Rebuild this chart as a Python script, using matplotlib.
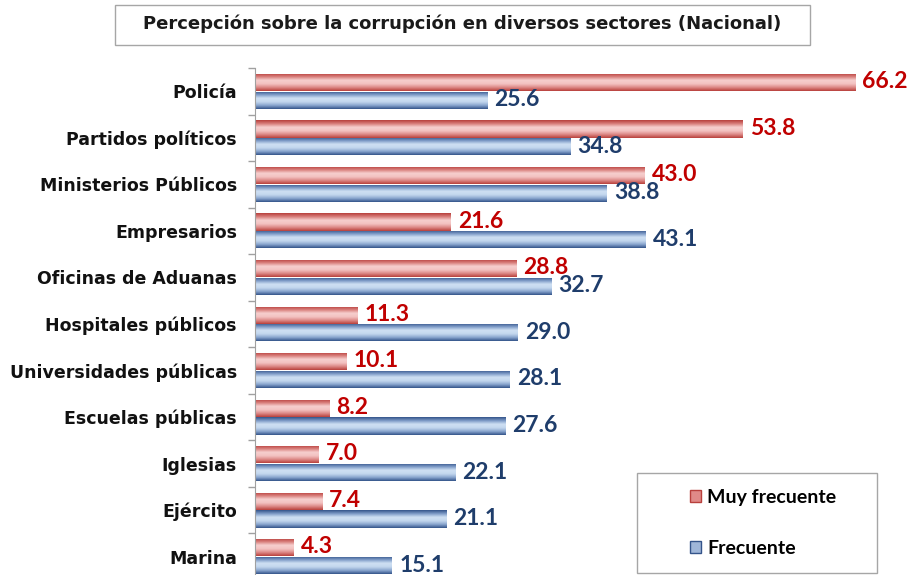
import matplotlib
matplotlib.use("Agg")
import matplotlib.pyplot as plt
import numpy as np
from matplotlib.colors import LinearSegmentedColormap
from matplotlib.patches import Rectangle, Patch

categories = ["Policía", "Partidos políticos", "Ministerios Públicos", "Empresarios",
              "Oficinas de Aduanas", "Hospitales públicos", "Universidades públicas",
              "Escuelas públicas", "Iglesias", "Ejército", "Marina"]
muy_frecuente = [66.2, 53.8, 43.0, 21.6, 28.8, 11.3, 10.1, 8.2, 7.0, 7.4, 4.3]
frecuente = [25.6, 34.8, 38.8, 43.1, 32.7, 29.0, 28.1, 27.6, 22.1, 21.1, 15.1]
series_names = ["Muy frecuente", "Frecuente"]
title = "Percepción sobre la corrupción en diversos sectores (Nacional)"

W, H = 914, 575
fig = plt.figure(figsize=(W / 100, H / 100), dpi=100)
fig.patch.set_facecolor("white")

ax_left, ax_right, ax_top, ax_bottom = 255, 914, 68, 580
ax = fig.add_axes([ax_left / W, 1 - ax_bottom / H, (ax_right - ax_left) / W, (ax_bottom - ax_top) / H])

red_cmap = LinearSegmentedColormap.from_list("r", ["#B8403C", "#D97F7C", "#F6CFCE", "#F3C2C1", "#DD8A88", "#B8403C"])
blue_cmap = LinearSegmentedColormap.from_list("b", ["#34548A", "#7F9CC8", "#CFE0F3", "#C3D7EE", "#8AA6CF", "#34548A"])
grad = np.linspace(0, 1, 64).reshape(-1, 1)

y = np.arange(len(categories))
bh = 0.37
off = 0.19
bars_r = ax.barh(y - off, muy_frecuente, height=bh, color="#D97F7C", edgecolor="none")
bars_b = ax.barh(y + off, frecuente, height=bh, color="#8AA6CF", edgecolor="none")

for bars, cmap in ((bars_r, red_cmap), (bars_b, blue_cmap)):
    for b in bars:
        x0, y0 = b.get_x(), b.get_y()
        w, h = b.get_width(), b.get_height()
        im = ax.imshow(grad, cmap=cmap, aspect="auto", extent=(x0, x0 + w, y0 + h, y0),
                       interpolation="bilinear", zorder=2)
        im.set_clip_path(b)

for b, v in zip(bars_r, muy_frecuente):
    ax.text(v + 0.8, b.get_y() + b.get_height() / 2 - 0.02, f"{v:.1f}", color="#C00000",
            fontsize=16.5, fontweight="bold", family="Lato", va="center", ha="left", zorder=3)
for b, v in zip(bars_b, frecuente):
    ax.text(v + 0.8, b.get_y() + b.get_height() / 2 - 0.01, f"{v:.1f}", color="#1F3D6B",
            fontsize=16.5, fontweight="bold", family="Lato", va="center", ha="left", zorder=3)

ax.set_xlim(0, 72.7)
ax.set_ylim(len(categories) - 0.5, -0.5)
ax.set_yticks(y)
ax.set_yticklabels(categories, fontsize=12.5, fontweight="bold", family="DejaVu Sans", color="#111111")
ax.tick_params(axis="y", which="major", length=0, pad=13)
ax.set_yticks(np.arange(-0.5, len(categories) + 0.5, 1), minor=True)
ax.tick_params(axis="y", which="minor", length=5, color="#A0A0A0", width=1)
ax.set_xticks([])
for s in ("top", "right", "bottom"):
    ax.spines[s].set_visible(False)
ax.spines["left"].set_color("#A0A0A0")
ax.set_facecolor("none")

# Title box
fig.patches.append(Rectangle((115 / W, 1 - 45 / H), (810 - 115) / W, 40 / H, transform=fig.transFigure,
                             facecolor="white", edgecolor="#A6A6A6", linewidth=1))
fig.text(462 / W, 1 - 24 / H, title, ha="center", va="center", fontsize=13,
         fontweight="bold", family="DejaVu Sans", color="#1a1a1a")

# Legend box
fig.patches.append(Rectangle((637 / W, 1 - 573 / H), (877 - 637) / W, 100 / H, transform=fig.transFigure,
                             facecolor="white", edgecolor="#A6A6A6", linewidth=1, zorder=5))
handles = [Patch(facecolor="#E08A88", edgecolor="#B8403C"), Patch(facecolor="#9FB6D8", edgecolor="#34548A")]
leg = fig.legend(handles, series_names, loc="center left", bbox_to_anchor=(672 / W, 1 - 523 / H),
                 frameon=False, handlelength=0.6, handleheight=0.6, handletextpad=0.3,
                 labelspacing=1.75, prop={"family": "Lato", "weight": "bold", "size": 14})
leg.set_zorder(6)

fig.savefig("out.png", dpi=100)
